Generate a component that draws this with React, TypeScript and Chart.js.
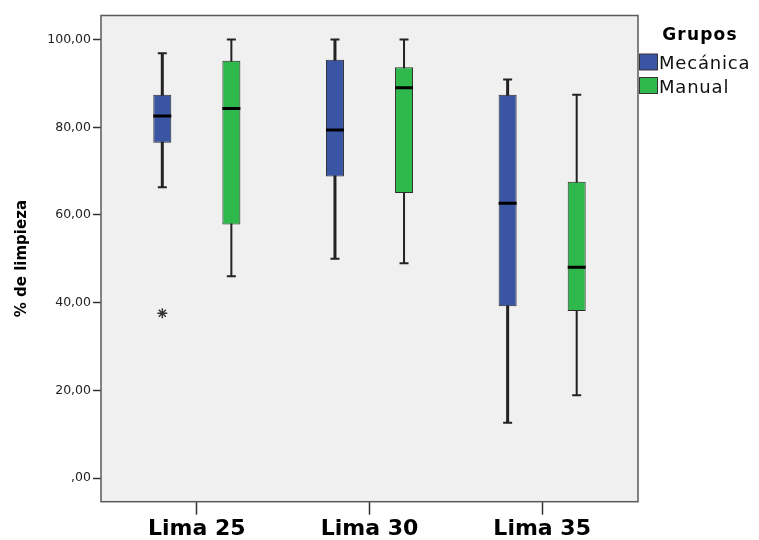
import React, { useEffect, useRef } from 'react';
import { Chart, registerables } from 'chart.js';

Chart.register(...registerables);

// ---- data ----
const categories = ['Lima 25', 'Lima 30', 'Lima 35'];
const groups = ['Mecánica', 'Manual'];
const legendTitle = 'Grupos';
const yTitle = '% de limpieza';
const yTickValues = [0, 20, 40, 60, 80, 100];

const mecMin = [66.3, 50.0, 12.6];
const mecQ1 = [76.5, 68.8, 39.2];
const mecMedian = [82.6, 79.4, 62.7];
const mecQ3 = [87.4, 95.4, 87.4];
const mecMax = [96.9, 100, 90.9];
const mecExtremes = [37.6, null, null];

const manMin = [46.0, 49.0, 18.9];
const manQ1 = [57.8, 65.0, 38.1];
const manMedian = [84.3, 89.0, 48.1];
const manQ3 = [95.2, 93.7, 67.6];
const manMax = [100, 100, 87.4];

// ---- styling ----
const FONT = '"DejaVu Sans", "Liberation Sans", Arial, sans-serif';
const groupColors = ['#3b55a5', '#2fb84b'];
const groupShift = [-0.2, 0.2];
const stemWidths = [3, 2];
const ink = '#222222';

function pts(values: (number | null)[], g: number) {
  return values
    .map((v, i) => (v === null ? null : { x: i + groupShift[g], y: v }))
    .filter((p) => p !== null) as { x: number; y: number }[];
}
function ranges(lo: number[], hi: number[], g: number) {
  return lo.map((v, i) => ({ x: i + groupShift[g], y: [v, hi[i]] }));
}

const plotBg = {
  id: 'plotBg',
  beforeDraw(chart: any) {
    const { ctx, chartArea: a } = chart;
    ctx.save();
    ctx.fillStyle = '#ffffff';
    ctx.fillRect(0, 0, chart.width, chart.height);
    ctx.fillStyle = '#f0f0f0';
    ctx.fillRect(a.left, a.top, a.right - a.left, a.bottom - a.top);
    ctx.restore();
  },
  afterDraw(chart: any) {
    const { ctx, chartArea: a } = chart;
    ctx.save();
    ctx.strokeStyle = '#5a5a5a';
    ctx.lineWidth = 1.5;
    ctx.strokeRect(a.left, a.top, a.right - a.left, a.bottom - a.top);
    ctx.restore();
  },
};

const customLegend = {
  id: 'customLegend',
  afterDraw(chart: any) {
    const { ctx, chartArea: a } = chart;
    const x0 = a.right;
    ctx.save();
    ctx.fillStyle = '#000';
    ctx.textBaseline = 'alphabetic';
    ctx.textAlign = 'center';
    ctx.font = `bold 17px ${FONT}`;
    (ctx as any).letterSpacing = '1.2px';
    ctx.fillText(legendTitle, x0 + 62, 39.5);
    ctx.textAlign = 'left';
    ctx.font = `18px ${FONT}`;
    (ctx as any).letterSpacing = '0.8px';
    groups.forEach((g, i) => {
      const top = 54 + i * 23.5;
      ctx.fillStyle = groupColors[i];
      ctx.fillRect(x0 + 1.5, top, 18, 16);
      ctx.strokeStyle = '#333';
      ctx.lineWidth = 1;
      ctx.strokeRect(x0 + 1.5, top, 18, 16);
      ctx.fillStyle = '#111';
      ctx.fillText(g, x0 + 21, top + 15);
    });
    ctx.restore();
  },
};

export default function App() {
  const ref = useRef<HTMLCanvasElement | null>(null);

  useEffect(() => {
    document.body.style.margin = '0';
    if (!ref.current) return;
    Chart.defaults.font.family = FONT;

    const mins = [mecMin, manMin];
    const q1s = [mecQ1, manQ1];
    const meds = [mecMedian, manMedian];
    const q3s = [mecQ3, manQ3];
    const maxs = [mecMax, manMax];

    const datasets: any[] = [];
    [0, 1].forEach((g) => {
      datasets.push({
        type: 'bar',
        label: groups[g] + ' whisker',
        data: ranges(mins[g], maxs[g], g),
        backgroundColor: ink,
        borderWidth: 0,
        grouped: false,
        maxBarThickness: stemWidths[g],
        order: 5,
      });
      datasets.push({
        type: 'bar',
        label: groups[g],
        data: ranges(q1s[g], q3s[g], g),
        backgroundColor: groupColors[g],
        borderColor: '#2b2b2b',
        borderWidth: 1,
        borderSkipped: false,
        grouped: false,
        maxBarThickness: 18,
        order: 4,
      });
      datasets.push({
        type: 'line',
        label: groups[g] + ' caps',
        data: [...pts(mins[g], g), ...pts(maxs[g], g)],
        showLine: false,
        pointStyle: 'line',
        pointRadius: 4.5,
        pointBorderWidth: 2,
        pointBorderColor: ink,
        pointHoverRadius: 4.5,
        order: 2,
      });
      datasets.push({
        type: 'line',
        label: groups[g] + ' median',
        data: pts(meds[g], g),
        showLine: false,
        pointStyle: 'line',
        pointRadius: 9,
        pointBorderWidth: 3,
        pointBorderColor: '#000',
        pointHoverRadius: 9,
        order: 1,
      });
    });
    datasets.push({
      type: 'line',
      label: 'Extremos',
      data: pts(mecExtremes, 0),
      showLine: false,
      pointStyle: 'star',
      pointRadius: 5,
      pointBorderWidth: 1.4,
      pointBorderColor: '#333',
      order: 0,
    });

    const chart = new Chart(ref.current, {
      type: 'bar',
      data: { datasets },
      options: {
        responsive: false,
        animation: false,
        events: [],
        layout: { padding: { top: 15.5, right: 121, left: 0, bottom: 0 } },
        plugins: { legend: { display: false }, tooltip: { enabled: false } },
        scales: {
          x: {
            type: 'linear',
            position: 'bottom',
            offset: false,
            min: -0.555,
            max: 2.555,
            afterBuildTicks: (s: any) => {
              s.ticks = categories.map((_, i) => ({ value: i }));
            },
            afterFit: (s: any) => {
              s.height = 38.3;
            },
            ticks: {
              callback: (v: any) => categories[Math.round(Number(v))] ?? '',
              font: { size: 22, weight: 'bold', family: FONT },
              color: '#000',
              padding: 1,
              maxRotation: 0,
              autoSkip: false,
            },
            grid: {
              offset: false,
              drawOnChartArea: false,
              drawTicks: true,
              tickLength: 13,
              tickColor: '#333',
              tickWidth: 1.5,
            },
            border: { display: false },
          },
          y: {
            type: 'linear',
            position: 'left',
            min: -5.4,
            max: 105.5,
            afterBuildTicks: (s: any) => {
              s.ticks = yTickValues.map((v) => ({ value: v }));
            },
            afterFit: (s: any) => {
              s.width = 101;
            },
            ticks: {
              callback: (v: any) => (Number(v) === 0 ? ',00' : `${v},00`),
              font: { size: 12.5, family: FONT },
              color: '#222',
              padding: 2,
            },
            grid: {
              drawOnChartArea: false,
              drawTicks: true,
              tickLength: 8,
              tickColor: '#333',
              tickWidth: 1.5,
            },
            border: { display: false },
            title: {
              display: true,
              text: yTitle,
              font: { size: 15, weight: 'bold', family: FONT },
              color: '#000',
              padding: { top: 13, bottom: 0 },
            },
          },
        },
      },
      plugins: [plotBg, customLegend],
    } as any);

    return () => chart.destroy();
  }, []);

  return (
    <div style={{ width: 759, height: 540 }}>
      <canvas ref={ref} width={759} height={540} style={{ display: 'block' }} />
    </div>
  );
}
